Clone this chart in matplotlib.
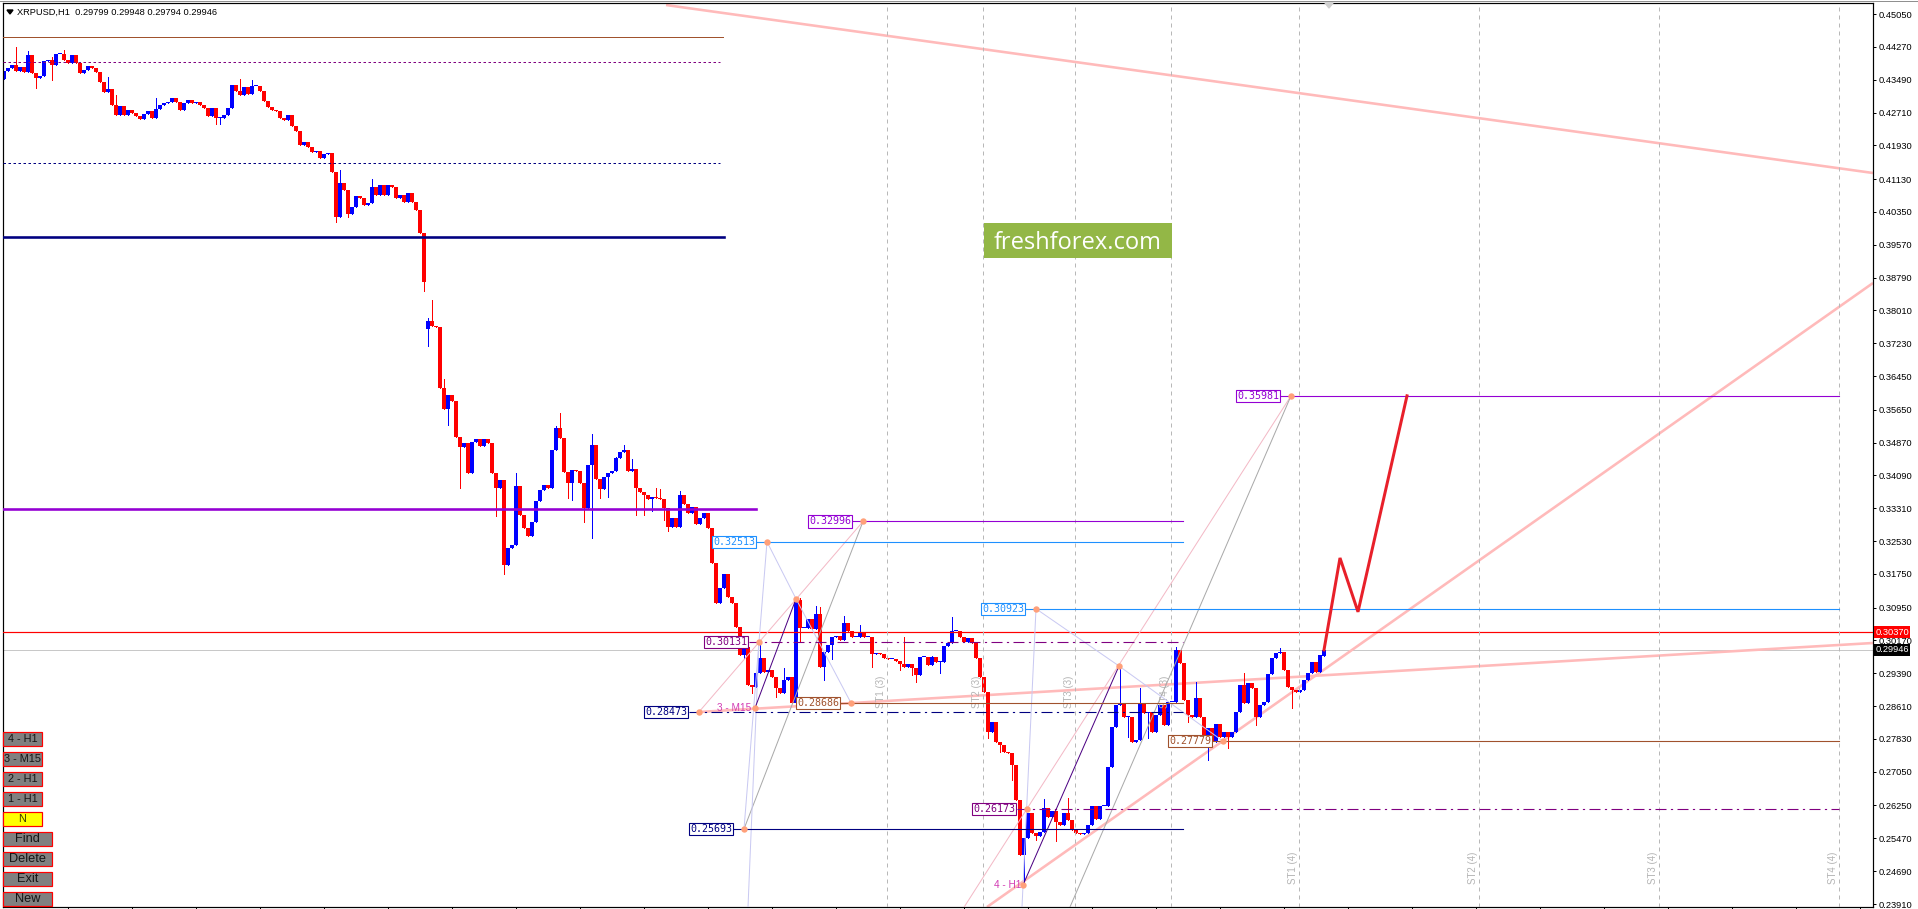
import matplotlib
matplotlib.use("Agg")
import matplotlib.pyplot as plt
import matplotlib.transforms as mtransforms
from matplotlib.patches import Rectangle, Polygon

plt.rcParams['font.family'] = ['Liberation Sans', 'DejaVu Sans']

W, H, DPI = 1918, 909, 100
PX = 0.72  # one pixel in points

# -----------------------------
# Data
# -----------------------------
header = "XRPUSD,H1  0.29799 0.29948 0.29794 0.29946"

# H1 closes, oldest first
closes = [
    0.4370, 0.4376, 0.4384, 0.4370, 0.4380, 0.4368, 0.4407, 0.4365, 0.4352, 0.4358,
    0.4393, 0.4396, 0.4384, 0.4409, 0.4411, 0.4396, 0.4388, 0.4407, 0.4388, 0.4365,
    0.4373, 0.4381, 0.4376, 0.4368, 0.4344, 0.4319, 0.4328, 0.4290, 0.4265, 0.4286,
    0.4265, 0.4277, 0.4269, 0.4262, 0.4255, 0.4267, 0.4275, 0.4259, 0.4279, 0.4289,
    0.4294, 0.4296, 0.4306, 0.4296, 0.4277, 0.4294, 0.4300, 0.4293, 0.4296, 0.4289,
    0.4281, 0.4262, 0.4281, 0.4257, 0.4257, 0.4265, 0.4281, 0.4336, 0.4323, 0.4312,
    0.4331, 0.4316, 0.4334, 0.4334, 0.4322, 0.4299, 0.4283, 0.4278, 0.4275, 0.4259,
    0.4253, 0.4265, 0.4239, 0.4228, 0.4194, 0.4201, 0.4190, 0.4178, 0.4180, 0.4164,
    0.4172, 0.4174, 0.4130, 0.4023, 0.4104, 0.4088, 0.4031, 0.4047, 0.4072, 0.4067,
    0.4051, 0.4055, 0.4095, 0.4075, 0.4099, 0.4075, 0.4100, 0.4095, 0.4069, 0.4076,
    0.4059, 0.4079, 0.4059, 0.4039, 0.3985, 0.3868, 0.3776, 0.3764, 0.3761, 0.3617,
    0.3567, 0.3600, 0.3586, 0.3500, 0.3476, 0.3486, 0.3415, 0.3488, 0.3495, 0.3479,
    0.3495, 0.3486, 0.3415, 0.3379, 0.3398, 0.3196, 0.3237, 0.3244, 0.3384, 0.3315,
    0.3284, 0.3265, 0.3298, 0.3348, 0.3374, 0.3386, 0.3379, 0.3469, 0.3522, 0.3498,
    0.3417, 0.3391, 0.3422, 0.3419, 0.3391, 0.3332, 0.3434, 0.3481, 0.3400, 0.3377,
    0.3405, 0.3415, 0.3419, 0.3450, 0.3465, 0.3469, 0.3419, 0.3424, 0.3379, 0.3370,
    0.3362, 0.3353, 0.3358, 0.3355, 0.3353, 0.3332, 0.3286, 0.3308, 0.3286, 0.3362,
    0.3341, 0.3320, 0.3334, 0.3294, 0.3308, 0.3320, 0.3284, 0.3201, 0.3106, 0.3142,
    0.3175, 0.3120, 0.3106, 0.3049, 0.2982, 0.3001, 0.2911, 0.2906, 0.2940, 0.2975,
    0.2942, 0.2947, 0.2930, 0.2904, 0.2892, 0.2923, 0.2930, 0.2868, 0.3113, 0.3047,
    0.3047, 0.3068, 0.3044, 0.3080, 0.2954, 0.2990, 0.3006, 0.3025, 0.3028, 0.3018,
    0.3058, 0.3039, 0.3025, 0.3025, 0.3035, 0.3025, 0.3025, 0.2985, 0.2987, 0.2985,
    0.2975, 0.2973, 0.2973, 0.2968, 0.2961, 0.2954, 0.2961, 0.2952, 0.2935, 0.2978,
    0.2978, 0.2959, 0.2978, 0.2966, 0.2966, 0.3004, 0.3011, 0.3039, 0.3039, 0.3025,
    0.3013, 0.3023, 0.3011, 0.2975, 0.2930, 0.2895, 0.2800, 0.2823, 0.2776, 0.2769,
    0.2752, 0.2750, 0.2721, 0.2638, 0.2507, 0.2548, 0.2607, 0.2560, 0.2552, 0.2562,
    0.2619, 0.2598, 0.2612, 0.2586, 0.2579, 0.2607, 0.2591, 0.2567, 0.2560, 0.2557,
    0.2560, 0.2579, 0.2624, 0.2593, 0.2624, 0.2624, 0.2716, 0.2811, 0.2864, 0.2868,
    0.2835, 0.2835, 0.2776, 0.2781, 0.2868, 0.2845, 0.2847, 0.2800, 0.2840, 0.2864,
    0.2816, 0.2871, 0.2871, 0.2994, 0.2963, 0.2876, 0.2840, 0.2835, 0.2880, 0.2835,
    0.2783, 0.2809, 0.2776, 0.2819, 0.2788, 0.2800, 0.2788, 0.2800, 0.2847, 0.2911,
    0.2868, 0.2916, 0.2904, 0.2835, 0.2864, 0.2871, 0.2937, 0.2975, 0.2987, 0.2990,
    0.2947, 0.2906, 0.2899, 0.2895, 0.2899, 0.2923, 0.2940, 0.2966, 0.2942, 0.2982,
    0.29946,
]
# bars whose open is not the previous close
gap_opens = {0: 0.4350, 106: 0.3757, 330: 0.29799}
# visible wick extremes
hi_wick = {3: 0.4426, 6: 0.4418, 12: 0.4403, 15: 0.4419, 26: 0.4355, 28: 0.4312,
           38: 0.4305, 59: 0.4350, 62: 0.4348, 84: 0.4134, 92: 0.4113, 106: 0.3782,
           107: 0.3826, 110: 0.3637, 128: 0.3415, 137: 0.3431, 138: 0.3526,
           139: 0.3557, 147: 0.3508, 153: 0.3453, 155: 0.3481, 157: 0.3448,
           163: 0.3379, 164: 0.3377, 169: 0.3373, 189: 0.3014, 195: 0.2952,
           197: 0.2928, 198: 0.3118, 199: 0.3118, 203: 0.3099, 204: 0.3097,
           210: 0.3075, 214: 0.3054, 225: 0.3025, 232: 0.2980, 237: 0.3073,
           260: 0.2640, 266: 0.2643, 279: 0.2955, 284: 0.2904, 293: 0.3002,
           298: 0.2919, 310: 0.2940, 319: 0.2999, 330: 0.29948}
lo_wick = {8: 0.4330, 12: 0.4348, 53: 0.4244, 54: 0.4244, 83: 0.4012, 86: 0.4023,
           105: 0.3848, 106: 0.3716, 111: 0.3529, 114: 0.3378, 123: 0.3313,
           125: 0.3175, 141: 0.3355, 142: 0.3350, 145: 0.3299, 147: 0.3260,
           149: 0.3355, 151: 0.3358, 158: 0.3315, 160: 0.3315, 162: 0.3325,
           165: 0.3303, 166: 0.3278, 185: 0.2975, 187: 0.2892, 193: 0.2883,
           199: 0.3016, 205: 0.2923, 207: 0.2973, 217: 0.2955, 224: 0.2947,
           227: 0.2935, 228: 0.2919, 234: 0.2940, 246: 0.2785, 249: 0.2753,
           252: 0.2686, 255: 0.2438, 258: 0.2543, 263: 0.2541, 281: 0.2788,
           286: 0.2785, 296: 0.2824, 301: 0.2733, 306: 0.2762, 313: 0.2816,
           322: 0.2857, 330: 0.29794}

price_ticks = [0.45050, 0.44270, 0.43490, 0.42710, 0.41930, 0.41130, 0.40350,
               0.39570, 0.38790, 0.38010, 0.37230, 0.36450, 0.35650, 0.34870,
               0.34090, 0.33310, 0.32530, 0.31750, 0.30950, 0.30170, 0.29390,
               0.28610, 0.27830, 0.27050, 0.26250, 0.25470, 0.24690, 0.23910]

# old levels on the left part of the chart
left_levels = [0.44504, 0.43910, 0.41511, 0.39753, 0.33292]
red_level = 0.30370
last_price = 0.29946

# pattern 3 (M15): levels and the bar they are anchored to
p3_levels = [0.32996, 0.32513, 0.30131, 0.28686, 0.28473, 0.25693]
p3_anchor = [214.75, 190.75, 188.75, 211.75, 173.75, 185.0]
p3_m15 = (187.75, 0.28566)
p3_top = (198.0, 0.31160)

# pattern 4 (H1)
p4_levels = [0.35981, 0.30923, 0.27779, 0.26173]
p4_anchor = [321.75, 258.0, 304.75, 255.75]
p4_h1 = (254.75, 0.24362)
p4_top = (278.75, 0.29564)
p4_grey_base = (266.5, 0.23839)
p4_lav_base = (254.5, 0.23839)
p3_lav_base = (186.0, 0.23839)

st_times = [220.75, 244.75, 267.75, 291.75, 323.75, 368.75, 413.75, 458.75]
st_names = ['ST1 (3)', 'ST2 (3)', 'ST3 (3)', 'ST4 (3)',
            'ST1 (4)', 'ST2 (4)', 'ST3 (4)', 'ST4 (4)']

trend_top = [(165.5, 0.45264), (467.25, 0.41274)]
trend_up = [(245.75, 0.23839), (467.25, 0.38661)]
trend_flat = [(173.75, 0.28471), (467.25, 0.30110)]

forecast_t = [330, 334.0, 338.5, 350.75]
forecast_p = [0.29946, 0.3213, 0.3085, 0.35981]

buttons = ['4 - H1', '3 - M15', '2 - H1', '1 - H1', 'N', 'Find', 'Delete', 'Exit', 'New']

# -----------------------------
# Figure / axes
# -----------------------------
fig = plt.figure(figsize=(W / DPI, H / DPI), dpi=DPI, facecolor='white')
ax = fig.add_axes([3 / W, 2 / H, 1870 / W, 904 / H])
ax.set_xlim(-0.25, 467.25)
ax.set_ylim(0.23839, 0.45312)
ax.set_facecolor('white')
for s in ax.spines.values():
    s.set_color('black')
    s.set_linewidth(PX * 1.2)

ax.yaxis.tick_right()
ax.set_yticks(price_ticks)
ax.set_yticklabels([f'{t:.5f}' for t in price_ticks])
ax.tick_params(axis='y', length=3 * PX, width=PX, pad=3 * PX, labelsize=6.7,
               direction='out', colors='black')
ax.set_xticks(range(16, 468, 16))
ax.set_xticklabels([])
ax.tick_params(axis='x', length=3 * PX, width=PX, direction='out')

# -----------------------------
# Candles
# -----------------------------
n = len(closes)
opens = [closes[0]] + closes[:-1]
for i, o in gap_opens.items():
    opens[i] = o
highs = [max(opens[i], closes[i], hi_wick.get(i, 0)) for i in range(n)]
lows = [min(opens[i], closes[i], lo_wick.get(i, 1)) for i in range(n)]
cols = ['#0000FF' if closes[i] >= opens[i] else '#FF0000' for i in range(n)]
xs = list(range(n))
ax.vlines(xs, lows, highs, colors=cols, lw=PX, zorder=2, antialiased=False)
bottoms = [min(opens[i], closes[i]) for i in range(n)]
heights = [max(abs(closes[i] - opens[i]), 0.00025) for i in range(n)]
ax.bar(xs, heights, bottom=bottoms, width=0.78, color=cols, linewidth=0,
       zorder=2.1, antialiased=False)

# -----------------------------
# Levels and trend lines
# -----------------------------
lv_style = [('#A0522D', '-', 1), ('#800080', (0, (2.5, 2.5)), 1),
            ('#000080', (0, (2.5, 2.5)), 1), ('#000080', '-', 2.6), ('#9400D3', '-', 2.6)]
lv_end = [179.75, 179.0, 179.0, 180.0, 188.0]
for lvl, (c, ls, w), e in zip(left_levels, lv_style, lv_end):
    ax.plot([-0.25, e], [lvl, lvl], color=c, ls=ls, lw=w * PX, zorder=3)

ax.axhline(last_price, color='#C8C8C8', lw=PX, zorder=1.5)
ax.axhline(red_level, color='#FF0000', lw=1.2 * PX, zorder=3)

for t in st_times:
    ax.axvline(t, color='#B8B8B8', lw=PX, ls=(0, (4, 4)), zorder=3)
for t, name in zip(st_times, st_names):
    yc = 0.28946 if '(3)' in name else 0.24766
    ax.text(t - 1.4, yc, name, rotation=90, ha='center', va='center',
            fontsize=7, color='#B4B4B4', zorder=3)

pink_thick = '#FFBABA'
for seg_pts in (trend_top, trend_up, trend_flat):
    ax.plot([seg_pts[0][0], seg_pts[1][0]], [seg_pts[0][1], seg_pts[1][1]],
            color=pink_thick, lw=2.6 * PX, zorder=1.8, solid_capstyle='butt')

lav = '#C9C9F2'
pink_thin = '#F3B9C6'
grey_thin = '#A9A9A9'
indigo = '#4B0082'


def seg(a, b, c, w=1.0, z=3.2):
    ax.plot([a[0], b[0]], [a[1], b[1]], color=c, lw=w * PX, zorder=z)


A3 = dict(zip(p3_levels, zip(p3_anchor, p3_levels)))
A4 = dict(zip(p4_levels, zip(p4_anchor, p4_levels)))

# pattern 3 construction lines
seg(A3[0.28473], A3[0.32996], pink_thin)
seg(A3[0.25693], A3[0.32996], grey_thin)
seg(A3[0.25693], A3[0.32513], lav)
seg(A3[0.32513], p3_top, lav)
seg(p3_top, A3[0.28686], lav)
seg(A3[0.30131], p3_lav_base, lav)
seg(p3_m15, p3_top, indigo)

# pattern 4 construction lines
a, b = A4[0.26173], A4[0.35981]
k = (b[1] - a[1]) / (b[0] - a[0])
x_low = a[0] - (a[1] - 0.23839) / k
seg((x_low, 0.23839), b, pink_thin)
seg(p4_grey_base, b, grey_thin)
seg(A4[0.30923], p4_lav_base, lav)
seg(A4[0.30923], p4_top, lav)
seg(p4_top, A4[0.27779], lav)
seg(p4_h1, p4_top, indigo)

# level lines with boxed labels
p3_style = {0.32996: ('#9400D3', '-'), 0.32513: ('#1E90FF', '-'),
            0.30131: ('#800080', (0, (10, 4, 2, 4))), 0.28686: ('#A0522D', '-'),
            0.28473: ('#000080', (0, (10, 4, 2, 4))), 0.25693: ('#000080', '-')}
p4_style = {0.35981: ('#9400D3', '-'), 0.30923: ('#1E90FF', '-'),
            0.27779: ('#A0522D', '-'), 0.26173: ('#800080', (0, (10, 4, 2, 4)))}

for levels, anchors, styles, end in ((p3_levels, p3_anchor, p3_style, 294.75),
                                     (p4_levels, p4_anchor, p4_style, 458.75)):
    for lvl, t in zip(levels, anchors):
        c, ls = styles[lvl]
        ax.plot([t - 2.6, end], [lvl, lvl], color=c, ls=ls, lw=PX * 1.1, zorder=3.3)
        ax.text(t - 3.0, lvl, f'{lvl:.5f}', ha='right', va='center', color=c,
                fontsize=7.2, family='DejaVu Sans Mono', zorder=6,
                bbox=dict(boxstyle='square,pad=0.12', fc='white', ec=c, lw=PX * 1.1))

dots = [A3[v] for v in p3_levels] + [p3_m15, p3_top] + [A4[v] for v in p4_levels] + [p4_h1, p4_top]
ax.plot([d[0] for d in dots], [d[1] for d in dots], 'o', ms=4.6, color='#FFA07A',
        mec='none', zorder=6.5)

ax.text(p3_m15[0] - 1.0, p3_m15[1], '3 - M15', ha='right', va='center', fontsize=7.2,
        color='#D23CB4', zorder=3.1)
ax.text(p4_h1[0] - 0.5, p4_h1[1], '4 - H1', ha='right', va='center', fontsize=7.2,
        color='#D23CB4', zorder=3.1)

# forecast zigzag
ax.plot(forecast_t, forecast_p, color='#E8202A', lw=3 * PX, zorder=5,
        solid_joinstyle='miter')

# watermark box (pixel-placed, it is not data)
ax.add_patch(Rectangle((245.0, 0.39255), 47.0, 0.00831, fc='#93B746', ec='none',
                       zorder=7))
ax.text(268.5, 0.39469, 'freshforex.com', ha='center', va='baseline', fontsize=17,
        family='Open Sans', color='white', zorder=7.1)

# price boxes on the scale
blend = mtransforms.blended_transform_factory(ax.transAxes, ax.transData)
ax.text(1.0012, red_level, '0.30370', transform=blend, ha='left', va='center',
        fontsize=6.7, color='white', zorder=8, clip_on=False,
        bbox=dict(boxstyle='square,pad=0.12', fc='#FF0000', ec='none'))
ax.text(1.0012, last_price, '0.29946', transform=blend, ha='left', va='center',
        fontsize=6.7, color='white', zorder=8, clip_on=False,
        bbox=dict(boxstyle='square,pad=0.12', fc='black', ec='none'))


# -----------------------------
# Window furniture (pixel positions)
# -----------------------------
def fx(px):
    return px / W


def fy(py):
    return 1 - py / H


fig.add_artist(plt.Line2D([0, 1], [fy(0.5), fy(0.5)], color='#909090', lw=PX))
fig.add_artist(Polygon([(fx(7), fy(10)), (fx(13), fy(10)), (fx(10), fy(14))],
                       closed=True, color='black', transform=fig.transFigure))
fig.text(fx(17), fy(12), header, fontsize=6.7, va='center', ha='left')
fig.add_artist(Polygon([(fx(1325), fy(3)), (fx(1333), fy(3)), (fx(1329), fy(8))],
                       closed=True, color='#CFCFCF', transform=fig.transFigure))

for j, name in enumerate(buttons):
    top = 732 + 20 * j
    w = 39 if j < 5 else 49
    fc = '#FFFF00' if name == 'N' else '#808080'
    fig.add_artist(Rectangle((fx(3), fy(top + 14)), w / W, 14 / H, fc=fc, ec='#FF0000',
                             lw=1.2 * PX, transform=fig.transFigure))
    fs = 7.8 if j < 5 else 9.2
    tc = '#3A3A00' if name == 'N' else '#151515'
    fig.text(fx(3 + w / 2), fy(top + 7.5), name, fontsize=fs, color=tc,
             ha='center', va='center')

fig.savefig('out.png', dpi=DPI, facecolor='white')
